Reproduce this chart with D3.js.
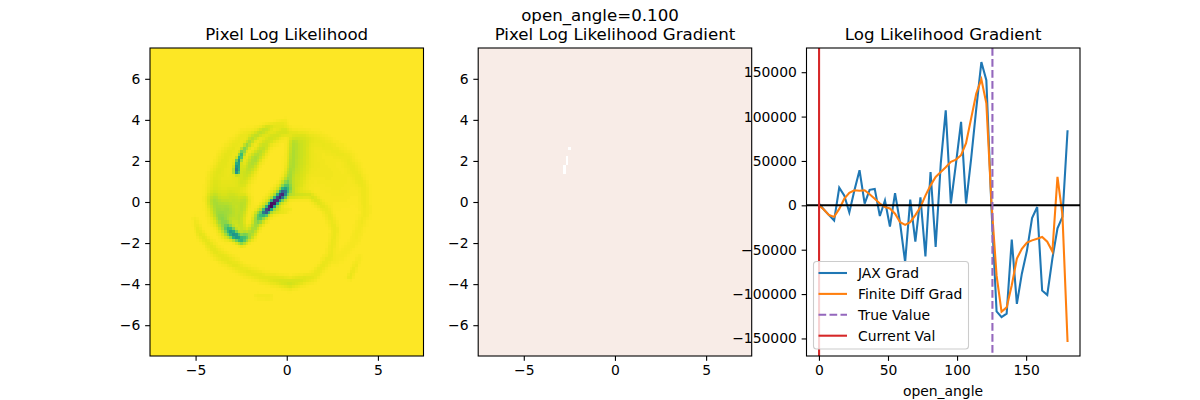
<!DOCTYPE html>
<html>
<head>
<meta charset="utf-8">
<script src="https://cdn.jsdelivr.net/npm/d3@7"></script>
<style>
body { margin: 0; background: #fff; }
svg text { font-family: "DejaVu Sans", sans-serif; fill: #000; }
</style>
</head>
<body>
<script>
// right panel values
var angles = [0,3.7,7.3,11,14.7,18.4,22,25.7,29.4,33.1,36.7,40.4,44.1,47.8,51.4,55.1,58.8,62.4,66.1,69.8,73.5,77.1,80.8,84.5,88.2,91.8,95.5,99.2,102.9,106.5,110.2,113.9,117.6,121.2,124.9,128.6,132.2,135.9,139.6,143.3,146.9,150.6,154.3,158,161.6,165.3,169,172.7,176.3,180];
var jaxGrad = [2000,-5000,-11000,-17000,20000,11000,-8000,17000,39500,2000,17500,18500,-12000,5500,-24000,13800,-20500,-64000,6400,-41000,9000,-57500,37500,-47000,47000,107000,2000,47000,94000,2000,52600,109000,161500,141000,-3000,-119500,-126000,-122000,-38500,-111000,-77000,-51000,-14300,-1900,-96000,-101000,-60000,-26000,-13000,84600];
var finiteGrad = [0,-5000,-11000,-13000,-4000,7500,14000,17000,16500,17000,12500,7500,2000,-2000,-3500,-9400,-19000,-22000,-19000,-11000,-2000,11000,22500,32000,37500,43000,49000,51500,56500,70000,98000,126000,142000,115000,3000,-79000,-120000,-115000,-90000,-60000,-49000,-42000,-39500,-37600,-35700,-41000,-52000,32000,-11000,-154000];
var trueValue = 125.6;
var currentVal = 0.1;
var legendLabels = ["JAX Grad", "Finite Diff Grad", "True Value", "Current Val"];

var imgTicksX = [-5, 0, 5];
var imgTicksY = [-6, -4, -2, 0, 2, 4, 6];
var gradTicksX = [0, 50, 100, 150];
var gradTicksY = [-150000, -100000, -50000, 0, 50000, 100000, 150000];

// likelihood image: ridges, each point is [x, y, depth, spread]
var ridgeHook = [[-2.74,1.5,.62,.1],[-2.68,1.96,.5,.09],[-2.38,2.53,.2,.1],[-1.83,3.10,.08,.13],[-1.10,3.59,.05,.13],[-.09,3.91,.02,.12]];
var ridgeCore = [[-1.19,-.52,.55,.1],[-.82,-.15,.95,.1],[-.55,.12,.75,.1],[-.18,.45,.35,.12]];
var ridgeCoreHalo = [[-1.46,-.71,.16,.2],[-.82,-.15,.18,.24],[-.05,.6,.22,.24]];
var ridgeElbow = [[-3.2,-1.28,.18,.15],[-2.83,-1.64,.5,.14],[-2.47,-1.85,.34,.15],[-2.01,-1.61,.13,.17],[-1.46,-.71,.14,.17]];
var ridgeElbowEdge = [[-4.02,.1,.05,.22],[-3.84,-.55,.08,.22],[-3.2,-1.45,.16,.22]];
var ridgeBlob = [[-3.2,-.39,.13,.5],[-2.9,-.1,.08,.45]];
var ridgeLoopLeft = [[-2.4,1,.05,.25],[-1.75,2.1,.13,.22],[-1.05,2.95,.07,.2],[-.18,3.45,.06,.2]];
var ridgeLoopRight = [[.37,2.86,.07,.16],[.27,1.72,.08,.16],[0,.75,.14,.16],[-.27,.34,.3,.14]];
var ridgeLoopWide = [[.73,2.7,.07,.35],[.55,.91,.06,.35]];
var ridgeOuterLeft = [[-4.02,.1,.04,.25],[-3.93,1.23,.035,.25],[-3.29,2.37,.03,.25],[-2.38,3.18,.03,.22],[-1.1,3.5,.03,.2]];
var ridgeFillLeft = [[-3.3,.6,.035,.55],[-2.8,1.8,.025,.5]];
var ridgeFillRight = [[1.4,1.9,.025,.7],[2.8,1,.018,.8]];
var ridgeStrand = [[-2.29,.1,.06,.18],[-2.56,-.88,.07,.18],[-2.38,-1.53,.08,.18]];
var ridgeBigCircle = [[.18,3.34,.03,.18],[1.65,3.02,.025,.25],[3.29,2.21,.022,.25],[4.2,.75,.025,.2],[4.3,-.55,.022,.2],[3.66,-2.01,.015,.2],[2.74,-2.82,.012,.2]];
var ridgeInnerCircle = [[.37,.34,.05,.13],[1.28,.34,.055,.13],[2.19,-.39,.03,.17],[2.65,-1.36,.03,.17],[2.38,-2.66,.03,.17],[1.46,-3.64,.035,.18],[.18,-3.96,.07,.2],[-1.1,-3.72,.04,.2],[-2.38,-3.31,.035,.2],[-3.84,-2.5,.04,.2],[-4.75,-1.53,.04,.15],[-5.03,-.88,.02,.12]];
var ridgeShort = [[-1.1,-.39,.04,.1],[-.18,-.47,.035,.1],[.18,-.39,.02,.1]];
var ridgeSpur = [[4,-2.66,.012,.12],[3.47,-3.64,.035,.12]];
var ridgeBottom = [[-1.65,-4.6,.02,.1],[-.9,-4.64,.02,.1]];
var ridges = [ridgeHook, ridgeCore, ridgeCoreHalo, ridgeElbow, ridgeElbowEdge, ridgeBlob, ridgeLoopLeft, ridgeLoopRight, ridgeLoopWide, ridgeOuterLeft, ridgeFillLeft, ridgeFillRight, ridgeStrand, ridgeBigCircle, ridgeInnerCircle, ridgeShort, ridgeSpur, ridgeBottom];

// gradient image is flat apart from a few white cells
var whiteCellsX = [-2.85,-2.85,-2.85,-2.7,-2.7,-2.7,-2.55];
var whiteCellsY = [1.35,1.5,1.65,1.8,1.95,2.1,2.55];

var W = 1200, H = 400;
var svg = d3.select("body").append("svg").attr("width", W).attr("height", H);

var top_ = 48, bottom = 356;
var panels = [[150, 423.5], [478.2, 751.7], [806.5, 1080]];
var binsN = 100, binW = 0.15;

function bins() {
    var out = [];
    for (var i = 0; i < binsN; i++) out.push(-7.5 + i * binW);
    return out;
}

function ridgeValue(px, py, ridge) {
    var best = 0;
    for (var i = 0; i < ridge.length - 1; i++) {
        var a = ridge[i], b = ridge[i + 1];
        var dx = b[0] - a[0], dy = b[1] - a[1];
        var t = ((px - a[0]) * dx + (py - a[1]) * dy) / (dx * dx + dy * dy);
        t = Math.max(0, Math.min(1, t));
        var ex = px - (a[0] + t * dx), ey = py - (a[1] + t * dy);
        var depth = a[2] + t * (b[2] - a[2]), spread = a[3] + t * (b[3] - a[3]);
        var v = depth * Math.exp(-(ex * ex + ey * ey) / (2 * spread * spread));
        if (v > best) best = v;
    }
    return best;
}

function drawAxes(g, x, y, ticksX, ticksY, fmt) {
    var size = 4.86;
    var ax = g.append("g").attr("transform", "translate(0," + y.range()[0] + ")")
        .call(d3.axisBottom(x).tickValues(ticksX).tickSize(size).tickPadding(4.2).tickFormat(d3.format("d")));
    var ay = g.append("g").attr("transform", "translate(" + x.range()[0] + ",0)")
        .call(d3.axisLeft(y).tickValues(ticksY).tickSize(size).tickPadding(4.8).tickFormat(fmt || d3.format("d")));
    [ax, ay].forEach(function(a) {
        a.select(".domain").remove();
        a.selectAll("line").attr("stroke", "#000").attr("stroke-width", 1.1);
        a.selectAll("text").style("font-size", "13.9px").style("font-family", '"DejaVu Sans", sans-serif');
    });
    g.append("rect")
        .attr("x", x.range()[0]).attr("y", top_)
        .attr("width", x.range()[1] - x.range()[0]).attr("height", bottom - top_)
        .attr("fill", "none").attr("stroke", "#000").attr("stroke-width", 1.1);
}

function title(cx, text) {
    svg.append("text").attr("x", cx).attr("y", 40)
        .attr("text-anchor", "middle").style("font-size", "16.67px").text(text);
}

svg.append("text").attr("x", 600).attr("y", 21)
    .attr("text-anchor", "middle").style("font-size", "16.67px").text("open_angle=0.100");

// left panel
var x1 = d3.scaleLinear().domain([-7.5, 7.5]).range(panels[0]);
var y1 = d3.scaleLinear().domain([-7.5, 7.5]).range([bottom, top_]);
var cells = [];
bins().forEach(function(bx) {
    bins().forEach(function(by) {
        var cx = bx + binW / 2, cy = by + binW / 2, sum = 0;
        ridges.forEach(function(r) { sum += ridgeValue(cx, cy, r); });
        cells.push({x: bx, y: by, v: Math.min(1, sum)});
    });
});
var likeColor = function(v) { return d3.interpolateViridis(1 - v); };
var left = svg.append("g");
left.append("g").attr("shape-rendering", "crispEdges").selectAll("rect").data(cells).enter().append("rect")
    .attr("x", function(d) { return x1(d.x); })
    .attr("y", function(d) { return y1(d.y + binW); })
    .attr("width", x1(binW) - x1(0))
    .attr("height", y1(0) - y1(binW))
    .attr("fill", function(d) { return likeColor(d.v); });
drawAxes(left, x1, y1, imgTicksX, imgTicksY);
title((panels[0][0] + panels[0][1]) / 2, "Pixel Log Likelihood");

// middle panel
var x2 = d3.scaleLinear().domain([-7.5, 7.5]).range(panels[1]);
var y2 = d3.scaleLinear().domain([-7.5, 7.5]).range([bottom, top_]);
var mid = svg.append("g");
mid.append("rect").attr("x", x2(-7.5)).attr("y", y2(7.5))
    .attr("width", x2(7.5) - x2(-7.5)).attr("height", y2(-7.5) - y2(7.5))
    .attr("fill", "#f8ece7");
mid.append("g").attr("shape-rendering", "crispEdges").selectAll("rect").data(whiteCellsX).enter().append("rect")
    .attr("x", function(d) { return x2(d); })
    .attr("y", function(d, i) { return y2(whiteCellsY[i] + binW); })
    .attr("width", x2(binW) - x2(0))
    .attr("height", y2(0) - y2(binW))
    .attr("fill", "#fff");
drawAxes(mid, x2, y2, imgTicksX, imgTicksY);
title((panels[1][0] + panels[1][1]) / 2, "Pixel Log Likelihood Gradient");

// right panel
var ext = d3.extent(jaxGrad.concat(finiteGrad));
var pad = (ext[1] - ext[0]) * 0.05;
var x3 = d3.scaleLinear().domain([-9, 189]).range(panels[2]);
var y3 = d3.scaleLinear().domain([ext[0] - pad, ext[1] + pad]).range([bottom, top_]);
var right = svg.append("g");
var colors = {blue: "#1f77b4", orange: "#ff7f0e", purple: "#9467bd", red: "#d62728"};

function series(vals) {
    return d3.line().x(function(d, i) { return x3(angles[i]); }).y(function(d) { return y3(d); })(vals);
}
right.append("path").attr("d", series(jaxGrad)).attr("fill", "none").attr("stroke", colors.blue).attr("stroke-width", 2.08);
right.append("path").attr("d", series(finiteGrad)).attr("fill", "none").attr("stroke", colors.orange).attr("stroke-width", 2.08);
right.append("line").attr("x1", panels[2][0]).attr("x2", panels[2][1])
    .attr("y1", y3(0)).attr("y2", y3(0)).attr("stroke", "#000").attr("stroke-width", 2.08);
right.append("line").attr("x1", x3(trueValue)).attr("x2", x3(trueValue)).attr("y1", top_).attr("y2", bottom)
    .attr("stroke", colors.purple).attr("stroke-width", 2.08).attr("stroke-dasharray", "7.7,3.3");
right.append("line").attr("x1", x3(currentVal)).attr("x2", x3(currentVal)).attr("y1", top_).attr("y2", bottom)
    .attr("stroke", colors.red).attr("stroke-width", 2.08);
drawAxes(right, x3, y3, gradTicksX, gradTicksY);
title((panels[2][0] + panels[2][1]) / 2, "Log Likelihood Gradient");
svg.append("text").attr("x", 943).attr("y", 396).attr("text-anchor", "middle")
    .style("font-size", "13.9px").text("open_angle");

// legend
var legend = right.append("g").attr("transform", "translate(813.5,261.5)");
legend.append("rect").attr("width", 155).attr("height", 87.5).attr("rx", 3)
    .attr("fill", "#fff").attr("fill-opacity", 0.8).attr("stroke", "#ccc").attr("stroke-width", 1.1);
var legendColors = [colors.blue, colors.orange, colors.purple, colors.red];
legendLabels.forEach(function(label, i) {
    var ly = 11.5 + i * 20.9;
    var l = legend.append("line").attr("x1", 5).attr("x2", 33.5).attr("y1", ly).attr("y2", ly)
        .attr("stroke", legendColors[i]).attr("stroke-width", 2.08);
    if (i === 2) l.attr("stroke-dasharray", "7.7,3.3");
    legend.append("text").attr("x", 44.5).attr("y", ly + 5)
        .style("font-size", "13.9px").text(label);
});
</script>
</body>
</html>
